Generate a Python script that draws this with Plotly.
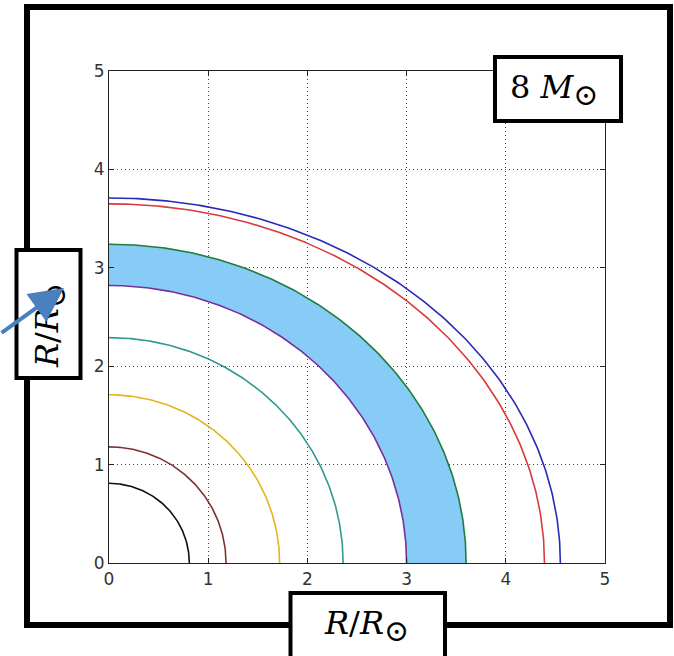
import numpy as np
import plotly.graph_objects as go

# Equatorial (x) and polar (y) radii of each shell, in solar radii
shell_names = ["core", "shell 1", "shell 2", "shell 3", "inner band", "outer band", "shell 6", "surface"]
radius_eq = [0.81, 1.18, 1.72, 2.36, 3.00, 3.60, 4.39, 4.55]
radius_pol = [0.81, 1.18, 1.71, 2.29, 2.82, 3.24, 3.65, 3.71]
line_colors = ["#111111", "#80302f", "#e6b422", "#2e9a90", "#7a2e9c", "#1f7d3e", "#d93a3c", "#2a2ab8"]
band_fill = "#87cbf7"

tick_vals = [0, 1, 2, 3, 4, 5]
tick_text = ["0", "1", "2", "3", "4", "5"]

W, H = 674, 656
ML, MR, MT, MB = 109, 69, 71, 93
PW, PH = W - ML - MR, H - MT - MB


def px(x):
    return (x - ML) / PW


def py(y):
    return (H - MB - y) / PH


theta = np.linspace(0, np.pi / 2, 200)


def quarter(i):
    return radius_eq[i] * np.cos(theta), radius_pol[i] * np.sin(theta)


fig = go.Figure()

# shaded band between the inner and outer band boundaries
xo, yo = quarter(5)
xi, yi = quarter(4)
fig.add_trace(go.Scatter(
    x=np.concatenate([xo, xi[::-1]]), y=np.concatenate([yo, yi[::-1]]),
    fill="toself", fillcolor=band_fill, line=dict(width=0), mode="lines",
    hoverinfo="skip", showlegend=False))

for i, name in enumerate(shell_names):
    x, y = quarter(i)
    fig.add_trace(go.Scatter(x=x, y=y, mode="lines", name=name,
                             line=dict(color=line_colors[i], width=1.6),
                             showlegend=False))

axis_common = dict(
    range=[0, 5], tickvals=tick_vals, ticktext=tick_text,
    showline=True, linecolor="#222", linewidth=1.2, mirror="allticks",
    ticks="inside", ticklen=5, tickcolor="#222", tickwidth=1,
    showgrid=True, gridcolor="#444", gridwidth=1, griddash="1px,3px",
    zeroline=False, tickfont=dict(family="DejaVu Sans", size=17, color="#333"),
)

fig.update_layout(
    width=W, height=H, autosize=False,
    margin=dict(l=ML, r=MR, t=MT, b=MB, pad=0),
    paper_bgcolor="white", plot_bgcolor="white",
    xaxis=dict(**axis_common),
    yaxis=dict(**axis_common),
)

shapes = [
    # outer frame
    dict(type="rect", xref="paper", yref="paper", x0=px(27), x1=px(670), y0=py(625), y1=py(7),
         line=dict(color="black", width=6), fillcolor="rgba(0,0,0,0)", layer="above"),
    # x label box
    dict(type="rect", xref="paper", yref="paper", x0=px(290.5), x1=px(445), y0=py(680), y1=py(593),
         line=dict(color="black", width=4), fillcolor="white", layer="above"),
    # y label box
    dict(type="rect", xref="paper", yref="paper", x0=px(16.5), x1=px(80.5), y0=py(378), y1=py(250),
         line=dict(color="black", width=4), fillcolor="white", layer="above"),
    # mass label box
    dict(type="rect", xref="paper", yref="paper", x0=px(495), x1=px(621), y0=py(121), y1=py(57),
         line=dict(color="black", width=4), fillcolor="white", layer="above"),
]
fig.update_layout(shapes=shapes)

sun = "<sub><span style='font-size:30px'>⊙</span></sub>"
label_font = dict(family="DejaVu Serif", size=32, color="black")
fig.add_annotation(xref="paper", yref="paper", x=px(366), y=py(626), showarrow=False,
                   text="<i>R</i>/<i>R</i>" + sun, font=label_font,
                   xanchor="center", yanchor="middle")
fig.add_annotation(xref="paper", yref="paper", x=px(50), y=py(326), showarrow=False,
                   text="<i>R</i>/<i>R</i>" + sun, font=label_font, textangle=-90,
                   xanchor="center", yanchor="middle")
fig.add_annotation(xref="paper", yref="paper", x=px(554), y=py(90), showarrow=False,
                   text="8 <i>M</i>" + sun, font=label_font,
                   xanchor="center", yanchor="middle")

# pointer arrow onto the y label
fig.add_annotation(xref="paper", yref="paper", x=px(64), y=py(288), text="",
                   showarrow=True, arrowhead=2, arrowsize=1.7, arrowwidth=4,
                   arrowcolor="#4a80bf", ax=-90, ay=46, axref="pixel", ayref="pixel")

fig.write_html("out.html")
